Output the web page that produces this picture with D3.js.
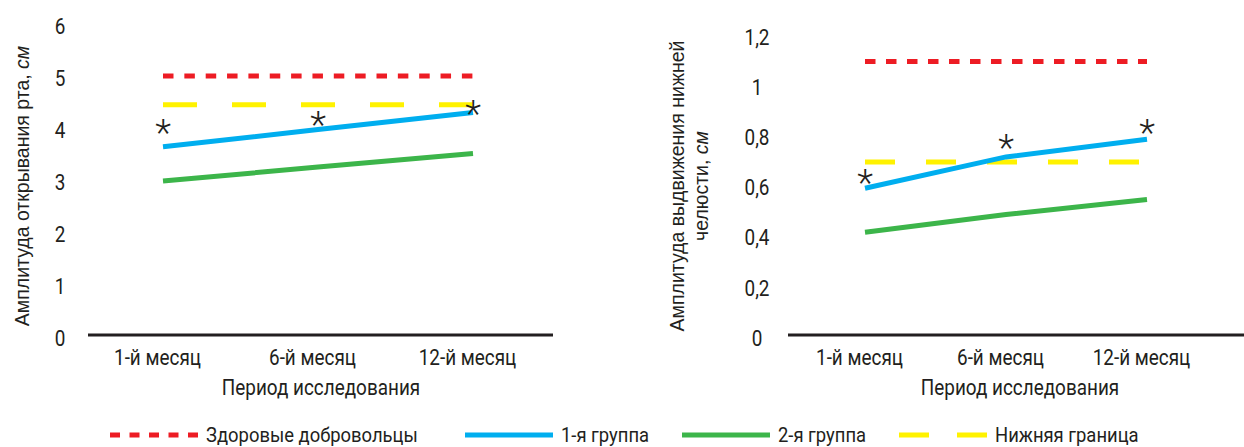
<!DOCTYPE html>
<html>
<head>
<meta charset="utf-8">
<script src="https://cdn.jsdelivr.net/npm/d3@7"></script>
<style>
  html, body { margin: 0; padding: 0; background: #fff; }
  svg { display: block; }
  .cond { font-family: Roboto, "Noto Sans", sans-serif; fill: #231f20; }
  .plain { font-family: "Liberation Sans", Arial, sans-serif; fill: #231f20; }
</style>
</head>
<body>
<div id="chart"></div>
<script>
// data
const periods = ['1-й месяц', '6-й месяц', '12-й месяц']

const mouthTicks = [0, 1, 2, 3, 4, 5, 6]
const mouthHealthy = [4.98, 4.98, 4.98]
const mouthLimit = [4.43, 4.43, 4.43]
const mouthGroup1 = [3.62, 3.95, 4.28]
const mouthGroup2 = [2.96, 3.23, 3.49]
const mouthStars = [4.04, 4.19, 4.42]

const jawTicks = [0, 0.2, 0.4, 0.6, 0.8, 1, 1.2]
const jawHealthy = [1.09, 1.09, 1.09]
const jawLimit = [0.69, 0.69, 0.69]
const jawGroup1 = [0.585, 0.71, 0.78]
const jawGroup2 = [0.41, 0.48, 0.54]
const jawStars = [0.64, 0.78, 0.84]

const legendNames = ['Здоровые добровольцы', '1-я группа', '2-я группа', 'Нижняя граница']

const colors = { healthy: '#ed1c24', group1: '#00aeef', group2: '#3cb54a', limit: '#fff200', axis: '#231f20' }

const width = 1244, height = 447
// horizontal squeeze to imitate the narrow DIN-like face of the original
const K = 0.86
const fs = 22

const svg = d3.select('#chart').append('svg')
    .attr('width', width)
    .attr('height', height)

function drawPanel(opts) {
    const { xRange, axisX, yTop, maxVal, ticks, tickX, fmt, series, stars, titleLines, titleX, xTitleX } = opts

    const x = d3.scalePoint().domain(periods).range(xRange)
    const y = d3.scaleLinear().domain([0, maxVal]).range([335, yTop])

    const g = svg.append('g')

    // y tick labels (no axis line, centered text)
    g.append('g').selectAll('text')
        .data(ticks)
        .enter().append('text')
        .attr('class', 'cond')
        .attr('transform', d => `translate(${tickX},${y(d) + 3}) scale(${K},1)`)
        .attr('dy', '0.35em')
        .attr('text-anchor', 'middle')
        .attr('font-size', fs)
        .text(d => fmt(d))

    // bottom axis
    const xAxis = d3.axisBottom(x).tickSize(0).tickPadding(14)
    const ax = g.append('g')
        .attr('transform', 'translate(0,335)')
        .call(xAxis)
    ax.select('.domain').remove()
    ax.append('line')
        .attr('x1', axisX[0]).attr('x2', axisX[1])
        .attr('stroke', colors.axis)
        .attr('stroke-width', 3)
    ax.selectAll('.tick text')
        .attr('class', 'cond')
        .attr('font-size', fs)
        .attr('transform', `scale(${K},1)`)
        .attr('dx', -7)
        .attr('fill', colors.axis)

    g.append('text')
        .attr('class', 'cond')
        .attr('transform', `translate(${xTitleX},395) scale(${K},1)`)
        .attr('text-anchor', 'middle')
        .attr('font-size', fs)
        .text('Период исследования')

    // y title, rotated; last word italic
    titleLines.forEach((ln, i) => {
        const t = g.append('text')
            .attr('class', 'plain')
            .attr('font-size', 19.5)
            .attr('text-anchor', 'middle')
            .attr('transform', `translate(${titleX[i]},186) rotate(-90)`)
            .attr('dy', '0.35em')
        t.append('tspan').text(ln[0])
        if (ln[1]) t.append('tspan').attr('font-style', 'italic').text(ln[1])
    })

    const line = d3.line()
        .x((d, i) => x(periods[i]))
        .y(d => y(d))

    series.forEach(s => {
        g.append('path')
            .datum(s.values)
            .attr('d', line)
            .attr('fill', 'none')
            .attr('stroke', s.color)
            .attr('stroke-width', 5)
            .attr('stroke-dasharray', s.dash || null)
    })

    // significance marks over group 1
    g.append('g').selectAll('text')
        .data(stars)
        .enter().append('text')
        .attr('class', 'cond')
        .attr('x', (d, i) => x(periods[i]))
        .attr('y', d => y(d))
        .attr('dy', '0.55em')
        .attr('text-anchor', 'middle')
        .attr('font-size', 37)
        .attr('font-weight', 300)
        .text('*')
}

drawPanel({
    xRange: [163, 473],
    axisX: [88, 553],
    yTop: 23,
    maxVal: 6,
    ticks: mouthTicks,
    tickX: 60,
    fmt: d => d,
    series: [
        { values: mouthHealthy, color: colors.healthy, dash: '10.5,10.85' },
        { values: mouthLimit, color: colors.limit, dash: '34,35' },
        { values: mouthGroup1, color: colors.group1 },
        { values: mouthGroup2, color: colors.group2 }
    ],
    stars: mouthStars,
    titleLines: [['Амплитуда открывания рта, ', 'см']],
    titleX: [22],
    xTitleX: 321
})

drawPanel({
    xRange: [865, 1147],
    axisX: [788, 1244],
    yTop: 34,
    maxVal: 1.2,
    ticks: jawTicks,
    tickX: 757,
    fmt: d => String(d).replace('.', ','),
    series: [
        { values: jawHealthy, color: colors.healthy, dash: '10.5,10.5' },
        { values: jawLimit, color: colors.limit, dash: '30,31' },
        { values: jawGroup1, color: colors.group1 },
        { values: jawGroup2, color: colors.group2 }
    ],
    stars: jawStars,
    titleLines: [['Амплитуда выдвижения нижней'], ['челюсти, ', 'см']],
    titleX: [677, 701],
    xTitleX: 1020
})

// legend
const legendItems = [
    { name: legendNames[0], color: colors.healthy, dash: '10,9.5', x: 110 },
    { name: legendNames[1], color: colors.group1, dash: null, x: 465 },
    { name: legendNames[2], color: colors.group2, dash: null, x: 682 },
    { name: legendNames[3], color: colors.limit, dash: '30,28', x: 899 }
]
const legend = svg.append('g').attr('transform', 'translate(0,435)')
const li = legend.selectAll('g')
    .data(legendItems)
    .enter().append('g')
    .attr('transform', d => `translate(${d.x},0)`)
li.append('line')
    .attr('x2', 88)
    .attr('stroke', d => d.color)
    .attr('stroke-width', 5)
    .attr('stroke-dasharray', d => d.dash)
li.append('text')
    .attr('class', 'cond')
    .attr('transform', `translate(96,0) scale(${K * 1.02},1)`)
    .attr('dy', '0.33em')
    .attr('font-size', 21)
    .text(d => d.name)
</script>
</body>
</html>
